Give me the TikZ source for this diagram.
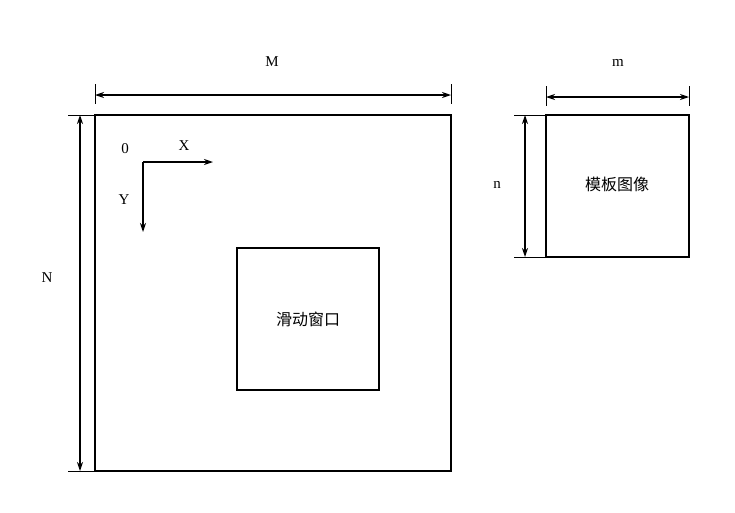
\documentclass[tikz,border=0pt]{standalone}
\usepackage{fontspec}
\setmainfont{Liberation Serif}
\newfontfamily\cjk{Noto Sans CJK SC}
\usetikzlibrary{arrows.meta}
\begin{document}
\begin{tikzpicture}[x=1pt,y=-1pt,
  box/.style={draw,line width=1.2pt},
  dim/.style={line width=1.2pt,{Stealth[length=9pt,width=6pt]}-{Stealth[length=9pt,width=6pt]}},
  tick/.style={line width=0.8pt},
  lab/.style={font=\fontsize{15}{15}\selectfont},
  cj/.style={font=\cjk\fontsize{16}{16}\selectfont}]
\useasboundingbox (0,0) rectangle (735,512);
\fill[white] (0,0) rectangle (735,512);
% big square
\draw[box] (95,115) rectangle (451,471);
\node[box,minimum width=142pt,minimum height=142pt,inner sep=0pt,cj] (win) at (308,319) {滑动窗口};
\node[box,minimum width=143pt,minimum height=142pt,inner sep=0pt,cj] (tpl) at (617.5,186) {};
\node[cj] (tpltext) at (617,184) {模板图像};
% M dimension
\draw[tick] (95,84) -- (95,104);
\draw[tick] (451,84) -- (451,104);
\coordinate (m1) at (95,95); \coordinate (m2) at (451,95);
\draw[dim] (m1) -- (m2);
\node[lab] (M) at (272,62) {M};
% N dimension
\draw[tick] (68,115) -- (95,115);
\draw[tick] (68,471) -- (95,471);
\coordinate (n1) at (80,115); \coordinate (n2) at (80,471);
\draw[dim] (n1) -- (n2);
\node[lab] (N) at (47,278) {N};
% m dimension
\draw[tick] (546,86) -- (546,106);
\draw[tick] (689,86) -- (689,106);
\coordinate (s1) at (546,97); \coordinate (s2) at (689,97);
\draw[dim] (s1) -- (s2);
\node[lab] (ml) at (618,63) {m};
% n dimension
\draw[tick] (514,115) -- (546,115);
\draw[tick] (514,257) -- (546,257);
\coordinate (t1) at (525,115); \coordinate (t2) at (525,257);
\draw[dim] (t1) -- (t2);
\node[lab] (nl) at (497,185) {n};
% axes
\coordinate (o) at (143,162);
\coordinate (ox) at (213,162);
\coordinate (oy) at (143,232);
\draw[line width=1.2pt,-{Stealth[length=9pt,width=6pt]}] (o) -- (ox);
\draw[line width=1.2pt,-{Stealth[length=9pt,width=6pt]}] (o) -- (oy);
\node[lab] (zero) at (125,149) {0};
\node[lab] (X) at (184,146) {X};
\node[lab] (Y) at (124,200) {Y};
\end{tikzpicture}
\end{document}
